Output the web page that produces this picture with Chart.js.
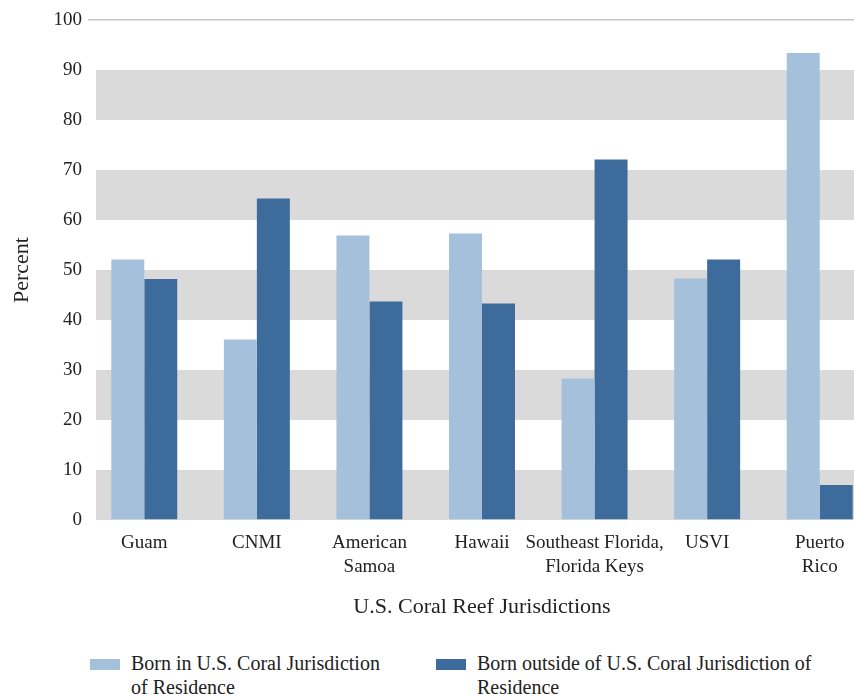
<!DOCTYPE html>
<html>
<head>
<meta charset="utf-8">
<script src="https://cdn.jsdelivr.net/npm/chart.js@4.4.0/dist/chart.umd.min.js"></script>
<style>
  html, body { margin: 0; padding: 0; background: #fff; overflow: hidden; width: 854px; height: 698px; }
  #wrap { position: absolute; left: 0; top: 0; width: 900px; height: 630px; }
  .legend { position: absolute; top: 651px; font-family: "Liberation Serif", serif; font-size: 20px; line-height: 24px; color: #222; }
  .legend .box { position: absolute; left: 0; top: 8px; width: 30px; height: 11px; }
  .legend .txt { position: absolute; left: 41px; top: 0; }
</style>
</head>
<body>
<div id="wrap"><canvas id="grafico" width="900" height="630"></canvas></div>
<div class="legend" style="left:90px"><div class="box" style="background:#a5c0db"></div><div class="txt" style="width:255px">Born in U.S. Coral Jurisdiction of Residence</div></div>
<div class="legend" style="left:436px"><div class="box" style="background:#3d6c9c"></div><div class="txt" style="width:360px">Born outside of U.S. Coral Jurisdiction of Residence</div></div>
<script>
// Dados do gráfico
const jurisdicoes = ['Guam', 'CNMI', ['American', 'Samoa'], 'Hawaii', ['Southeast Florida,', 'Florida Keys'], 'USVI', ['Puerto', 'Rico']];
const nascidosDentro = [52.1, 36.1, 56.9, 57.3, 28.3, 48.3, 93.4];
const nascidosFora = [48.2, 64.3, 43.7, 43.3, 72.1, 52.1, 7.0];
const faixasCinza = [0, 20, 40, 60, 80]; // início de cada faixa cinza (10 de altura)

const fonte = "'Liberation Serif', serif";

// Faixas cinza alternadas atrás das barras
const faixas = {
    id: 'faixas',
    beforeDatasetsDraw(chart) {
        const { ctx, chartArea, scales: { y } } = chart;
        ctx.save();
        ctx.fillStyle = '#dadada';
        faixasCinza.forEach(v => {
            const topo = y.getPixelForValue(v + 10);
            const base = y.getPixelForValue(v);
            ctx.fillRect(chartArea.left + 8, topo, chartArea.right - chartArea.left, base - topo);
        });
        ctx.restore();
    }
};

const ctx = document.getElementById('grafico').getContext('2d');
new Chart(ctx, {
    type: 'bar',
    data: {
        labels: jurisdicoes,
        datasets: [{
            label: 'Born in U.S. Coral Jurisdiction of Residence',
            data: nascidosDentro,
            backgroundColor: '#a5c0db',
            borderWidth: 0
        }, {
            label: 'Born outside of U.S. Coral Jurisdiction of Residence',
            data: nascidosFora,
            backgroundColor: '#3d6c9c',
            borderWidth: 0
        }]
    },
    options: {
        responsive: false,
        animation: false,
        layout: { padding: { top: 20, right: 24, left: 0, bottom: 0 } },
        plugins: {
            legend: { display: false },
            tooltip: { enabled: false }
        },
        datasets: { bar: { barPercentage: 1, categoryPercentage: 0.586 } },
        scales: {
            x: {
                grid: { display: false },
                border: { display: false },
                ticks: {
                    color: '#222',
                    font: { family: fonte, size: 19, lineHeight: 1.26 },
                    padding: 3,
                    maxRotation: 0,
                    autoSkip: false
                },
                title: {
                    display: true,
                    text: 'U.S. Coral Reef Jurisdictions',
                    color: '#222',
                    font: { family: fonte, size: 22 },
                    padding: { top: 0, bottom: 10 }
                },
                afterFit: (scale) => { scale.height = 110; }
            },
            y: {
                min: 0,
                max: 100,
                border: { display: false },
                grid: {
                    drawTicks: false,
                    color: (c) => c.tick && c.tick.value === 100 ? '#c6c6c6' : 'rgba(0,0,0,0)',
                    lineWidth: 1.5
                },
                ticks: {
                    stepSize: 10,
                    color: '#222',
                    font: { family: fonte, size: 19 },
                    padding: 6
                },
                title: {
                    display: true,
                    text: 'Percent',
                    color: '#222',
                    font: { family: fonte, size: 22 },
                    padding: { top: 9, bottom: 0 }
                },
                afterFit: (scale) => { scale.width = 88; }
            }
        }
    },
    plugins: [faixas]
});
</script>
</body>
</html>
